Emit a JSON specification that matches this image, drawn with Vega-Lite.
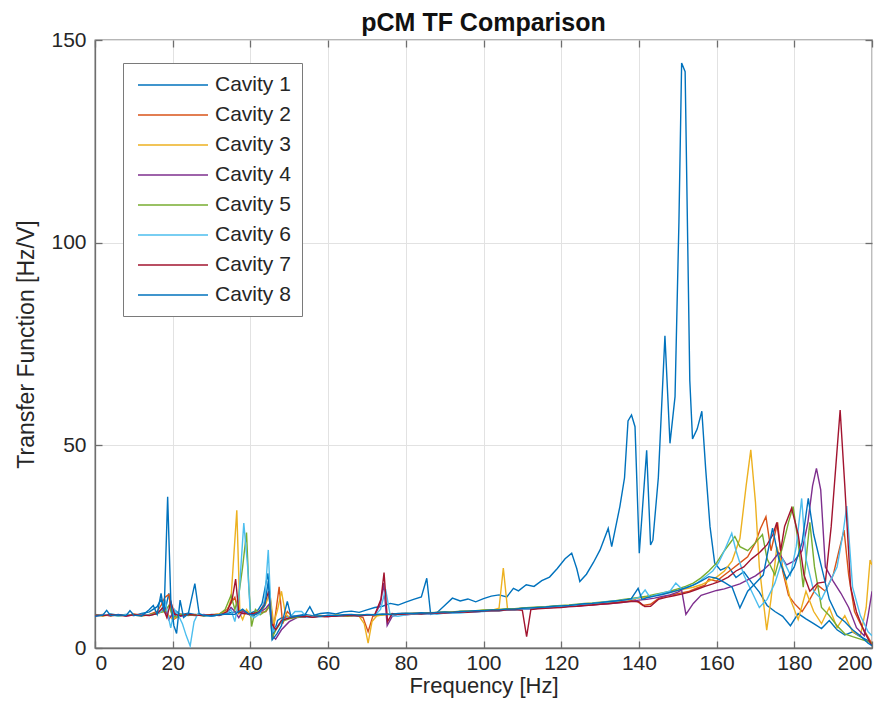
{
"$schema": "https://vega.github.io/schema/vega-lite/v6.json",
"width": 777, "height": 608,
"autosize": {"type": "none"},
"padding": {"left": 95, "top": 40, "right": 23, "bottom": 79},
"background": "white",
"title": {"text": "pCM TF Comparison", "fontSize": 25, "fontWeight": "bold", "font": "Liberation Sans", "color": "#111111", "offset": -7, "anchor": "middle"},
"data": {"values": [
{"f":0,"c":"Cavity 1","v":8.3},{"f":2,"c":"Cavity 1","v":8.0},{"f":4,"c":"Cavity 1","v":8.4},{"f":6,"c":"Cavity 1","v":8.1},{"f":8,"c":"Cavity 1","v":8.3},{"f":10,"c":"Cavity 1","v":8.0},{"f":12,"c":"Cavity 1","v":8.5},{"f":14,"c":"Cavity 1","v":8.9},{"f":16,"c":"Cavity 1","v":10.2},{"f":17,"c":"Cavity 1","v":12.0},{"f":18,"c":"Cavity 1","v":9.0},{"f":19,"c":"Cavity 1","v":13.5},{"f":20,"c":"Cavity 1","v":6.5},{"f":21,"c":"Cavity 1","v":9.0},{"f":22,"c":"Cavity 1","v":8.2},{"f":24,"c":"Cavity 1","v":8.6},{"f":26,"c":"Cavity 1","v":8.2},{"f":28,"c":"Cavity 1","v":8.0},{"f":30,"c":"Cavity 1","v":8.3},{"f":32,"c":"Cavity 1","v":8.1},{"f":34,"c":"Cavity 1","v":8.6},{"f":36,"c":"Cavity 1","v":8.9},{"f":38,"c":"Cavity 1","v":9.2},{"f":40,"c":"Cavity 1","v":8.6},{"f":42,"c":"Cavity 1","v":9.4},{"f":43,"c":"Cavity 1","v":11},{"f":44.5,"c":"Cavity 1","v":18.4},{"f":45.3,"c":"Cavity 1","v":10},{"f":46,"c":"Cavity 1","v":3.5},{"f":47,"c":"Cavity 1","v":6.8},{"f":48,"c":"Cavity 1","v":7.4},{"f":50,"c":"Cavity 1","v":7.8},{"f":52,"c":"Cavity 1","v":8.0},{"f":54,"c":"Cavity 1","v":8.3},{"f":56,"c":"Cavity 1","v":8.0},{"f":58,"c":"Cavity 1","v":8.5},{"f":60,"c":"Cavity 1","v":8.7},{"f":62,"c":"Cavity 1","v":8.4},{"f":64,"c":"Cavity 1","v":8.9},{"f":66,"c":"Cavity 1","v":9.1},{"f":68,"c":"Cavity 1","v":8.8},{"f":70,"c":"Cavity 1","v":9.4},{"f":72,"c":"Cavity 1","v":10.0},{"f":74,"c":"Cavity 1","v":10.3},{"f":76,"c":"Cavity 1","v":11.0},{"f":78,"c":"Cavity 1","v":10.6},{"f":80,"c":"Cavity 1","v":11.3},{"f":82,"c":"Cavity 1","v":12.0},{"f":84,"c":"Cavity 1","v":12.6},{"f":85.4,"c":"Cavity 1","v":17.2},{"f":86.4,"c":"Cavity 1","v":8.3},{"f":88,"c":"Cavity 1","v":8.7},{"f":90,"c":"Cavity 1","v":10.5},{"f":92,"c":"Cavity 1","v":12.3},{"f":94,"c":"Cavity 1","v":11.6},{"f":96,"c":"Cavity 1","v":12.1},{"f":98,"c":"Cavity 1","v":11.4},{"f":100,"c":"Cavity 1","v":12.2},{"f":102,"c":"Cavity 1","v":12.8},{"f":104,"c":"Cavity 1","v":13.1},{"f":106,"c":"Cavity 1","v":12.6},{"f":107.7,"c":"Cavity 1","v":14.7},{"f":109,"c":"Cavity 1","v":14.1},{"f":111,"c":"Cavity 1","v":15.6},{"f":113,"c":"Cavity 1","v":15.2},{"f":115,"c":"Cavity 1","v":16.6},{"f":117,"c":"Cavity 1","v":17.5},{"f":119,"c":"Cavity 1","v":19.6},{"f":121,"c":"Cavity 1","v":22.0},{"f":122.7,"c":"Cavity 1","v":23.4},{"f":124,"c":"Cavity 1","v":19.6},{"f":124.8,"c":"Cavity 1","v":16.4},{"f":126.5,"c":"Cavity 1","v":18.2},{"f":128.3,"c":"Cavity 1","v":21.1},{"f":130,"c":"Cavity 1","v":24.2},{"f":132.1,"c":"Cavity 1","v":29.5},{"f":133,"c":"Cavity 1","v":25.0},{"f":135.1,"c":"Cavity 1","v":34.9},{"f":136.3,"c":"Cavity 1","v":42},{"f":137.2,"c":"Cavity 1","v":56},{"f":138.1,"c":"Cavity 1","v":57.5},{"f":139,"c":"Cavity 1","v":54.6},{"f":140.1,"c":"Cavity 1","v":23.4},{"f":142,"c":"Cavity 1","v":48.8},{"f":143,"c":"Cavity 1","v":25.4},{"f":143.6,"c":"Cavity 1","v":26.6},{"f":145,"c":"Cavity 1","v":42},{"f":146.7,"c":"Cavity 1","v":77},{"f":148,"c":"Cavity 1","v":50.5},{"f":149.3,"c":"Cavity 1","v":62},{"f":150.3,"c":"Cavity 1","v":105},{"f":151,"c":"Cavity 1","v":144.3},{"f":151.9,"c":"Cavity 1","v":142.2},{"f":153.1,"c":"Cavity 1","v":66},{"f":153.8,"c":"Cavity 1","v":51.6},{"f":155,"c":"Cavity 1","v":54},{"f":156.2,"c":"Cavity 1","v":58.4},{"f":157.2,"c":"Cavity 1","v":44},{"f":158.3,"c":"Cavity 1","v":30},{"f":159.5,"c":"Cavity 1","v":21},{"f":161,"c":"Cavity 1","v":19.2},{"f":163,"c":"Cavity 1","v":20.1},{"f":165,"c":"Cavity 1","v":17.4},{"f":167,"c":"Cavity 1","v":18.8},{"f":169,"c":"Cavity 1","v":16.2},{"f":171,"c":"Cavity 1","v":13.8},{"f":173,"c":"Cavity 1","v":10.5},{"f":175,"c":"Cavity 1","v":9.0},{"f":177,"c":"Cavity 1","v":7.8},{"f":179,"c":"Cavity 1","v":5.5},{"f":181,"c":"Cavity 1","v":8.5},{"f":183,"c":"Cavity 1","v":7.2},{"f":185,"c":"Cavity 1","v":6.0},{"f":187,"c":"Cavity 1","v":4.8},{"f":189,"c":"Cavity 1","v":6.8},{"f":191,"c":"Cavity 1","v":4.5},{"f":193,"c":"Cavity 1","v":3.2},{"f":195,"c":"Cavity 1","v":4.0},{"f":197,"c":"Cavity 1","v":2.8},{"f":199,"c":"Cavity 1","v":1.8},{"f":200,"c":"Cavity 1","v":1.2},
{"f":0,"c":"Cavity 2","v":8.0},{"f":2,"c":"Cavity 2","v":8.3},{"f":4,"c":"Cavity 2","v":7.9},{"f":6,"c":"Cavity 2","v":8.2},{"f":8,"c":"Cavity 2","v":8.0},{"f":10,"c":"Cavity 2","v":8.4},{"f":12,"c":"Cavity 2","v":8.1},{"f":14,"c":"Cavity 2","v":8.3},{"f":16,"c":"Cavity 2","v":9.0},{"f":17,"c":"Cavity 2","v":10.5},{"f":18,"c":"Cavity 2","v":12.5},{"f":19,"c":"Cavity 2","v":13.2},{"f":20,"c":"Cavity 2","v":7.0},{"f":21,"c":"Cavity 2","v":7.5},{"f":22,"c":"Cavity 2","v":8.4},{"f":24,"c":"Cavity 2","v":8.0},{"f":26,"c":"Cavity 2","v":8.3},{"f":28,"c":"Cavity 2","v":8.1},{"f":30,"c":"Cavity 2","v":8.2},{"f":32,"c":"Cavity 2","v":8.4},{"f":34,"c":"Cavity 2","v":9.5},{"f":35,"c":"Cavity 2","v":11},{"f":36,"c":"Cavity 2","v":12.5},{"f":37,"c":"Cavity 2","v":8.5},{"f":38,"c":"Cavity 2","v":9.2},{"f":40,"c":"Cavity 2","v":8.0},{"f":42,"c":"Cavity 2","v":8.6},{"f":44,"c":"Cavity 2","v":9.0},{"f":45,"c":"Cavity 2","v":10.5},{"f":46,"c":"Cavity 2","v":5.0},{"f":47.4,"c":"Cavity 2","v":15.1},{"f":48.3,"c":"Cavity 2","v":6.0},{"f":49.5,"c":"Cavity 2","v":9.0},{"f":51,"c":"Cavity 2","v":7.5},{"f":53,"c":"Cavity 2","v":7.7},{"f":55,"c":"Cavity 2","v":7.6},{"f":57,"c":"Cavity 2","v":7.9},{"f":59,"c":"Cavity 2","v":7.7},{"f":61,"c":"Cavity 2","v":7.9},{"f":63,"c":"Cavity 2","v":8.0},{"f":65,"c":"Cavity 2","v":7.8},{"f":67,"c":"Cavity 2","v":8.1},{"f":69,"c":"Cavity 2","v":7.5},{"f":70.3,"c":"Cavity 2","v":4.0},{"f":71.5,"c":"Cavity 2","v":7.8},{"f":73,"c":"Cavity 2","v":8.2},{"f":75,"c":"Cavity 2","v":8.3},{"f":77,"c":"Cavity 2","v":8.2},{"f":79,"c":"Cavity 2","v":8.5},{"f":81,"c":"Cavity 2","v":8.4},{"f":83,"c":"Cavity 2","v":8.6},{"f":85,"c":"Cavity 2","v":8.5},{"f":87,"c":"Cavity 2","v":8.7},{"f":89,"c":"Cavity 2","v":8.8},{"f":91,"c":"Cavity 2","v":8.7},{"f":93,"c":"Cavity 2","v":8.9},{"f":95,"c":"Cavity 2","v":9.0},{"f":97,"c":"Cavity 2","v":9.1},{"f":99,"c":"Cavity 2","v":9.0},{"f":101,"c":"Cavity 2","v":9.3},{"f":103,"c":"Cavity 2","v":9.4},{"f":105,"c":"Cavity 2","v":9.5},{"f":107,"c":"Cavity 2","v":9.5},{"f":109,"c":"Cavity 2","v":9.6},{"f":111,"c":"Cavity 2","v":9.7},{"f":113,"c":"Cavity 2","v":9.8},{"f":115,"c":"Cavity 2","v":9.9},{"f":117,"c":"Cavity 2","v":10.0},{"f":119,"c":"Cavity 2","v":10.1},{"f":121,"c":"Cavity 2","v":10.2},{"f":123,"c":"Cavity 2","v":10.4},{"f":125,"c":"Cavity 2","v":10.5},{"f":127,"c":"Cavity 2","v":10.7},{"f":129,"c":"Cavity 2","v":10.8},{"f":131,"c":"Cavity 2","v":11.0},{"f":133,"c":"Cavity 2","v":11.2},{"f":135,"c":"Cavity 2","v":11.4},{"f":137,"c":"Cavity 2","v":11.6},{"f":139,"c":"Cavity 2","v":11.9},{"f":141,"c":"Cavity 2","v":10.5},{"f":143,"c":"Cavity 2","v":10.8},{"f":145,"c":"Cavity 2","v":12.2},{"f":147,"c":"Cavity 2","v":12.8},{"f":149,"c":"Cavity 2","v":13.2},{"f":151,"c":"Cavity 2","v":13.6},{"f":153,"c":"Cavity 2","v":14.0},{"f":155,"c":"Cavity 2","v":14.8},{"f":157,"c":"Cavity 2","v":15.5},{"f":158,"c":"Cavity 2","v":17},{"f":160,"c":"Cavity 2","v":16.5},{"f":162,"c":"Cavity 2","v":18},{"f":164,"c":"Cavity 2","v":19.5},{"f":166,"c":"Cavity 2","v":21},{"f":168,"c":"Cavity 2","v":22.5},{"f":170,"c":"Cavity 2","v":26},{"f":171.3,"c":"Cavity 2","v":29.5},{"f":172.7,"c":"Cavity 2","v":32.4},{"f":174,"c":"Cavity 2","v":24},{"f":175.7,"c":"Cavity 2","v":31},{"f":177,"c":"Cavity 2","v":19},{"f":178.5,"c":"Cavity 2","v":13},{"f":180,"c":"Cavity 2","v":11},{"f":182,"c":"Cavity 2","v":9},{"f":184,"c":"Cavity 2","v":12},{"f":186,"c":"Cavity 2","v":15.5},{"f":188,"c":"Cavity 2","v":14},{"f":190,"c":"Cavity 2","v":18},{"f":191.5,"c":"Cavity 2","v":24},{"f":192.8,"c":"Cavity 2","v":29.1},{"f":194,"c":"Cavity 2","v":18},{"f":195.5,"c":"Cavity 2","v":9},{"f":197,"c":"Cavity 2","v":6},{"f":198.5,"c":"Cavity 2","v":3.5},{"f":200,"c":"Cavity 2","v":1},
{"f":0,"c":"Cavity 3","v":8.1},{"f":2,"c":"Cavity 3","v":7.9},{"f":4,"c":"Cavity 3","v":8.2},{"f":6,"c":"Cavity 3","v":8.0},{"f":8,"c":"Cavity 3","v":8.2},{"f":10,"c":"Cavity 3","v":8.1},{"f":12,"c":"Cavity 3","v":7.9},{"f":14,"c":"Cavity 3","v":8.2},{"f":16,"c":"Cavity 3","v":8.4},{"f":18,"c":"Cavity 3","v":9.5},{"f":19,"c":"Cavity 3","v":8.0},{"f":20,"c":"Cavity 3","v":7.2},{"f":22,"c":"Cavity 3","v":8.1},{"f":24,"c":"Cavity 3","v":8.3},{"f":26,"c":"Cavity 3","v":8.0},{"f":28,"c":"Cavity 3","v":8.2},{"f":30,"c":"Cavity 3","v":8.1},{"f":32,"c":"Cavity 3","v":8.4},{"f":34,"c":"Cavity 3","v":9.0},{"f":35,"c":"Cavity 3","v":12},{"f":36.5,"c":"Cavity 3","v":34},{"f":37.3,"c":"Cavity 3","v":8.5},{"f":38,"c":"Cavity 3","v":7},{"f":39,"c":"Cavity 3","v":9.5},{"f":40,"c":"Cavity 3","v":8.3},{"f":42,"c":"Cavity 3","v":8.7},{"f":43,"c":"Cavity 3","v":9.2},{"f":44,"c":"Cavity 3","v":11},{"f":45,"c":"Cavity 3","v":13.5},{"f":46,"c":"Cavity 3","v":6.0},{"f":47,"c":"Cavity 3","v":9.5},{"f":48,"c":"Cavity 3","v":14},{"f":49,"c":"Cavity 3","v":8.5},{"f":50,"c":"Cavity 3","v":7.5},{"f":52,"c":"Cavity 3","v":7.6},{"f":54,"c":"Cavity 3","v":7.8},{"f":56,"c":"Cavity 3","v":7.7},{"f":58,"c":"Cavity 3","v":8.0},{"f":60,"c":"Cavity 3","v":7.8},{"f":62,"c":"Cavity 3","v":8.1},{"f":64,"c":"Cavity 3","v":7.9},{"f":66,"c":"Cavity 3","v":8.2},{"f":68,"c":"Cavity 3","v":7.8},{"f":69.3,"c":"Cavity 3","v":6},{"f":70.3,"c":"Cavity 3","v":1.2},{"f":71.3,"c":"Cavity 3","v":6.5},{"f":72.5,"c":"Cavity 3","v":7.9},{"f":74,"c":"Cavity 3","v":8.2},{"f":76,"c":"Cavity 3","v":8.3},{"f":78,"c":"Cavity 3","v":8.4},{"f":80,"c":"Cavity 3","v":8.5},{"f":82,"c":"Cavity 3","v":8.4},{"f":84,"c":"Cavity 3","v":8.6},{"f":86,"c":"Cavity 3","v":8.7},{"f":88,"c":"Cavity 3","v":8.7},{"f":90,"c":"Cavity 3","v":8.9},{"f":92,"c":"Cavity 3","v":8.8},{"f":94,"c":"Cavity 3","v":9.0},{"f":96,"c":"Cavity 3","v":9.1},{"f":98,"c":"Cavity 3","v":9.1},{"f":100,"c":"Cavity 3","v":9.3},{"f":102,"c":"Cavity 3","v":9.3},{"f":104,"c":"Cavity 3","v":9.8},{"f":105.1,"c":"Cavity 3","v":19.7},{"f":106.2,"c":"Cavity 3","v":9.5},{"f":108,"c":"Cavity 3","v":9.6},{"f":110,"c":"Cavity 3","v":9.8},{"f":112,"c":"Cavity 3","v":9.9},{"f":114,"c":"Cavity 3","v":10.0},{"f":116,"c":"Cavity 3","v":10.1},{"f":118,"c":"Cavity 3","v":10.2},{"f":120,"c":"Cavity 3","v":10.3},{"f":122,"c":"Cavity 3","v":10.4},{"f":124,"c":"Cavity 3","v":10.6},{"f":126,"c":"Cavity 3","v":10.8},{"f":128,"c":"Cavity 3","v":10.9},{"f":130,"c":"Cavity 3","v":11.1},{"f":132,"c":"Cavity 3","v":11.3},{"f":134,"c":"Cavity 3","v":11.5},{"f":136,"c":"Cavity 3","v":11.8},{"f":138,"c":"Cavity 3","v":12.0},{"f":140,"c":"Cavity 3","v":12.3},{"f":142,"c":"Cavity 3","v":12.6},{"f":144,"c":"Cavity 3","v":12.9},{"f":146,"c":"Cavity 3","v":13.3},{"f":148,"c":"Cavity 3","v":13.8},{"f":150,"c":"Cavity 3","v":14.2},{"f":152,"c":"Cavity 3","v":14.6},{"f":154,"c":"Cavity 3","v":15.0},{"f":156,"c":"Cavity 3","v":15.6},{"f":158,"c":"Cavity 3","v":16.5},{"f":160,"c":"Cavity 3","v":17.5},{"f":162,"c":"Cavity 3","v":19},{"f":164,"c":"Cavity 3","v":21.5},{"f":166,"c":"Cavity 3","v":27},{"f":167.6,"c":"Cavity 3","v":40},{"f":168.8,"c":"Cavity 3","v":48.9},{"f":170,"c":"Cavity 3","v":36},{"f":171,"c":"Cavity 3","v":20},{"f":172.9,"c":"Cavity 3","v":4.4},{"f":174,"c":"Cavity 3","v":12},{"f":175.5,"c":"Cavity 3","v":25},{"f":177,"c":"Cavity 3","v":20},{"f":179,"c":"Cavity 3","v":12},{"f":181,"c":"Cavity 3","v":7},{"f":183,"c":"Cavity 3","v":14},{"f":185,"c":"Cavity 3","v":9},{"f":187,"c":"Cavity 3","v":6},{"f":189,"c":"Cavity 3","v":10},{"f":191,"c":"Cavity 3","v":5},{"f":193,"c":"Cavity 3","v":8},{"f":195,"c":"Cavity 3","v":4},{"f":197,"c":"Cavity 3","v":3},{"f":198.5,"c":"Cavity 3","v":10},{"f":199.5,"c":"Cavity 3","v":21.7},{"f":200,"c":"Cavity 3","v":20.5},
{"f":0,"c":"Cavity 4","v":7.9},{"f":2,"c":"Cavity 4","v":8.1},{"f":4,"c":"Cavity 4","v":8.0},{"f":6,"c":"Cavity 4","v":8.3},{"f":8,"c":"Cavity 4","v":7.9},{"f":10,"c":"Cavity 4","v":8.2},{"f":12,"c":"Cavity 4","v":8.0},{"f":14,"c":"Cavity 4","v":8.1},{"f":16,"c":"Cavity 4","v":8.5},{"f":18,"c":"Cavity 4","v":9.8},{"f":19,"c":"Cavity 4","v":7.0},{"f":20,"c":"Cavity 4","v":8.6},{"f":22,"c":"Cavity 4","v":7.8},{"f":24,"c":"Cavity 4","v":8.1},{"f":26,"c":"Cavity 4","v":8.0},{"f":28,"c":"Cavity 4","v":8.3},{"f":30,"c":"Cavity 4","v":7.9},{"f":32,"c":"Cavity 4","v":8.2},{"f":34,"c":"Cavity 4","v":8.5},{"f":35,"c":"Cavity 4","v":10},{"f":36,"c":"Cavity 4","v":9},{"f":37,"c":"Cavity 4","v":7.5},{"f":38,"c":"Cavity 4","v":9},{"f":40,"c":"Cavity 4","v":8.2},{"f":42,"c":"Cavity 4","v":8.5},{"f":44,"c":"Cavity 4","v":9.8},{"f":45,"c":"Cavity 4","v":11},{"f":45.6,"c":"Cavity 4","v":3.0},{"f":46.5,"c":"Cavity 4","v":2.2},{"f":48,"c":"Cavity 4","v":4.5},{"f":50,"c":"Cavity 4","v":6.5},{"f":52,"c":"Cavity 4","v":7.5},{"f":54,"c":"Cavity 4","v":7.7},{"f":56,"c":"Cavity 4","v":7.6},{"f":58,"c":"Cavity 4","v":7.9},{"f":60,"c":"Cavity 4","v":7.7},{"f":62,"c":"Cavity 4","v":8.0},{"f":64,"c":"Cavity 4","v":7.9},{"f":66,"c":"Cavity 4","v":8.1},{"f":68,"c":"Cavity 4","v":8.0},{"f":70,"c":"Cavity 4","v":8.2},{"f":72,"c":"Cavity 4","v":8.1},{"f":73.5,"c":"Cavity 4","v":11},{"f":74.3,"c":"Cavity 4","v":16},{"f":75.2,"c":"Cavity 4","v":5.5},{"f":76.5,"c":"Cavity 4","v":7.8},{"f":78,"c":"Cavity 4","v":8.3},{"f":80,"c":"Cavity 4","v":8.2},{"f":82,"c":"Cavity 4","v":8.4},{"f":84,"c":"Cavity 4","v":8.5},{"f":86,"c":"Cavity 4","v":8.4},{"f":88,"c":"Cavity 4","v":8.6},{"f":90,"c":"Cavity 4","v":8.7},{"f":92,"c":"Cavity 4","v":8.6},{"f":94,"c":"Cavity 4","v":8.8},{"f":96,"c":"Cavity 4","v":8.9},{"f":98,"c":"Cavity 4","v":8.9},{"f":100,"c":"Cavity 4","v":9.1},{"f":102,"c":"Cavity 4","v":9.2},{"f":104,"c":"Cavity 4","v":9.3},{"f":106,"c":"Cavity 4","v":9.3},{"f":108,"c":"Cavity 4","v":9.5},{"f":110,"c":"Cavity 4","v":9.6},{"f":112,"c":"Cavity 4","v":9.6},{"f":114,"c":"Cavity 4","v":9.8},{"f":116,"c":"Cavity 4","v":9.9},{"f":118,"c":"Cavity 4","v":10.0},{"f":120,"c":"Cavity 4","v":10.1},{"f":122,"c":"Cavity 4","v":10.2},{"f":124,"c":"Cavity 4","v":10.3},{"f":126,"c":"Cavity 4","v":10.5},{"f":128,"c":"Cavity 4","v":10.6},{"f":130,"c":"Cavity 4","v":10.8},{"f":132,"c":"Cavity 4","v":10.9},{"f":134,"c":"Cavity 4","v":11.1},{"f":136,"c":"Cavity 4","v":11.3},{"f":138,"c":"Cavity 4","v":11.5},{"f":140,"c":"Cavity 4","v":11.8},{"f":142,"c":"Cavity 4","v":12.0},{"f":144,"c":"Cavity 4","v":12.3},{"f":146,"c":"Cavity 4","v":12.7},{"f":148,"c":"Cavity 4","v":13.1},{"f":150,"c":"Cavity 4","v":13.8},{"f":151,"c":"Cavity 4","v":14.3},{"f":152.1,"c":"Cavity 4","v":8.3},{"f":154,"c":"Cavity 4","v":11},{"f":156,"c":"Cavity 4","v":13},{"f":158,"c":"Cavity 4","v":13.6},{"f":160,"c":"Cavity 4","v":14.2},{"f":162,"c":"Cavity 4","v":14.6},{"f":164,"c":"Cavity 4","v":15.2},{"f":166,"c":"Cavity 4","v":15.8},{"f":168,"c":"Cavity 4","v":16.8},{"f":170,"c":"Cavity 4","v":17.8},{"f":172,"c":"Cavity 4","v":19.2},{"f":174,"c":"Cavity 4","v":21},{"f":176,"c":"Cavity 4","v":23.5},{"f":178,"c":"Cavity 4","v":20.5},{"f":180,"c":"Cavity 4","v":21.5},{"f":182,"c":"Cavity 4","v":24},{"f":183.5,"c":"Cavity 4","v":31},{"f":184.7,"c":"Cavity 4","v":40},{"f":185.7,"c":"Cavity 4","v":44.3},{"f":186.8,"c":"Cavity 4","v":39},{"f":188,"c":"Cavity 4","v":20},{"f":190,"c":"Cavity 4","v":16.5},{"f":192,"c":"Cavity 4","v":13.5},{"f":194,"c":"Cavity 4","v":10},{"f":196,"c":"Cavity 4","v":5},{"f":198,"c":"Cavity 4","v":3},{"f":199,"c":"Cavity 4","v":8},{"f":200,"c":"Cavity 4","v":14},
{"f":0,"c":"Cavity 5","v":8.2},{"f":2,"c":"Cavity 5","v":8.0},{"f":4,"c":"Cavity 5","v":8.3},{"f":6,"c":"Cavity 5","v":7.9},{"f":8,"c":"Cavity 5","v":8.1},{"f":10,"c":"Cavity 5","v":8.3},{"f":12,"c":"Cavity 5","v":8.0},{"f":14,"c":"Cavity 5","v":8.2},{"f":16,"c":"Cavity 5","v":8.6},{"f":18,"c":"Cavity 5","v":9.0},{"f":19,"c":"Cavity 5","v":10.5},{"f":20,"c":"Cavity 5","v":8.0},{"f":21,"c":"Cavity 5","v":7.6},{"f":22,"c":"Cavity 5","v":8.3},{"f":24,"c":"Cavity 5","v":8.1},{"f":26,"c":"Cavity 5","v":8.2},{"f":28,"c":"Cavity 5","v":7.9},{"f":30,"c":"Cavity 5","v":8.2},{"f":32,"c":"Cavity 5","v":8.3},{"f":33.5,"c":"Cavity 5","v":9.5},{"f":35,"c":"Cavity 5","v":13},{"f":36,"c":"Cavity 5","v":9.5},{"f":37,"c":"Cavity 5","v":13},{"f":38,"c":"Cavity 5","v":20},{"f":39,"c":"Cavity 5","v":28.5},{"f":39.6,"c":"Cavity 5","v":15},{"f":40.3,"c":"Cavity 5","v":5.3},{"f":41.3,"c":"Cavity 5","v":9.5},{"f":42.5,"c":"Cavity 5","v":8.2},{"f":44,"c":"Cavity 5","v":9.2},{"f":45,"c":"Cavity 5","v":10.5},{"f":45.6,"c":"Cavity 5","v":2.5},{"f":46.6,"c":"Cavity 5","v":4.5},{"f":48,"c":"Cavity 5","v":6.5},{"f":50,"c":"Cavity 5","v":7.2},{"f":52,"c":"Cavity 5","v":7.6},{"f":54,"c":"Cavity 5","v":7.8},{"f":56,"c":"Cavity 5","v":7.7},{"f":58,"c":"Cavity 5","v":7.9},{"f":60,"c":"Cavity 5","v":7.8},{"f":62,"c":"Cavity 5","v":8.1},{"f":64,"c":"Cavity 5","v":8.0},{"f":66,"c":"Cavity 5","v":7.9},{"f":68,"c":"Cavity 5","v":8.2},{"f":70,"c":"Cavity 5","v":8.1},{"f":72,"c":"Cavity 5","v":8.3},{"f":74,"c":"Cavity 5","v":8.2},{"f":76,"c":"Cavity 5","v":8.4},{"f":78,"c":"Cavity 5","v":8.3},{"f":80,"c":"Cavity 5","v":8.5},{"f":82,"c":"Cavity 5","v":8.6},{"f":84,"c":"Cavity 5","v":8.6},{"f":86,"c":"Cavity 5","v":8.7},{"f":88,"c":"Cavity 5","v":8.8},{"f":90,"c":"Cavity 5","v":8.9},{"f":92,"c":"Cavity 5","v":8.9},{"f":94,"c":"Cavity 5","v":9.1},{"f":96,"c":"Cavity 5","v":9.1},{"f":98,"c":"Cavity 5","v":9.2},{"f":100,"c":"Cavity 5","v":9.4},{"f":102,"c":"Cavity 5","v":9.4},{"f":104,"c":"Cavity 5","v":9.5},{"f":106,"c":"Cavity 5","v":9.7},{"f":108,"c":"Cavity 5","v":9.7},{"f":110,"c":"Cavity 5","v":9.9},{"f":112,"c":"Cavity 5","v":10.0},{"f":114,"c":"Cavity 5","v":10.1},{"f":116,"c":"Cavity 5","v":10.2},{"f":118,"c":"Cavity 5","v":10.4},{"f":120,"c":"Cavity 5","v":10.5},{"f":122,"c":"Cavity 5","v":10.6},{"f":124,"c":"Cavity 5","v":10.8},{"f":126,"c":"Cavity 5","v":11.0},{"f":128,"c":"Cavity 5","v":11.1},{"f":130,"c":"Cavity 5","v":11.3},{"f":132,"c":"Cavity 5","v":11.5},{"f":134,"c":"Cavity 5","v":11.7},{"f":136,"c":"Cavity 5","v":12.0},{"f":138,"c":"Cavity 5","v":12.2},{"f":140,"c":"Cavity 5","v":12.5},{"f":142,"c":"Cavity 5","v":12.8},{"f":144,"c":"Cavity 5","v":13.2},{"f":146,"c":"Cavity 5","v":13.6},{"f":148,"c":"Cavity 5","v":14.0},{"f":150,"c":"Cavity 5","v":14.6},{"f":152,"c":"Cavity 5","v":15.2},{"f":154,"c":"Cavity 5","v":16},{"f":156,"c":"Cavity 5","v":17.3},{"f":158,"c":"Cavity 5","v":19},{"f":160,"c":"Cavity 5","v":21},{"f":162,"c":"Cavity 5","v":24},{"f":164.7,"c":"Cavity 5","v":27.5},{"f":166,"c":"Cavity 5","v":25},{"f":168,"c":"Cavity 5","v":24},{"f":170,"c":"Cavity 5","v":26},{"f":171.8,"c":"Cavity 5","v":28},{"f":173,"c":"Cavity 5","v":22},{"f":175,"c":"Cavity 5","v":18},{"f":177,"c":"Cavity 5","v":25},{"f":178.5,"c":"Cavity 5","v":31},{"f":179.7,"c":"Cavity 5","v":34.9},{"f":181,"c":"Cavity 5","v":26},{"f":182.3,"c":"Cavity 5","v":15},{"f":184,"c":"Cavity 5","v":31},{"f":185.2,"c":"Cavity 5","v":20},{"f":187,"c":"Cavity 5","v":10},{"f":189,"c":"Cavity 5","v":8},{"f":191,"c":"Cavity 5","v":5.5},{"f":193,"c":"Cavity 5","v":3.5},{"f":195,"c":"Cavity 5","v":2.8},{"f":197,"c":"Cavity 5","v":2.2},{"f":199,"c":"Cavity 5","v":1.6},{"f":200,"c":"Cavity 5","v":1.2},
{"f":0,"c":"Cavity 6","v":8.0},{"f":2,"c":"Cavity 6","v":8.2},{"f":4,"c":"Cavity 6","v":8.1},{"f":6,"c":"Cavity 6","v":7.9},{"f":8,"c":"Cavity 6","v":8.2},{"f":10,"c":"Cavity 6","v":8.0},{"f":12,"c":"Cavity 6","v":8.3},{"f":14,"c":"Cavity 6","v":8.1},{"f":16,"c":"Cavity 6","v":8.4},{"f":17,"c":"Cavity 6","v":9.0},{"f":18,"c":"Cavity 6","v":12},{"f":18.8,"c":"Cavity 6","v":8},{"f":19.5,"c":"Cavity 6","v":5.0},{"f":20.5,"c":"Cavity 6","v":9.5},{"f":21.5,"c":"Cavity 6","v":8.0},{"f":22.5,"c":"Cavity 6","v":6.0},{"f":23.5,"c":"Cavity 6","v":3.0},{"f":24.5,"c":"Cavity 6","v":0.5},{"f":25.5,"c":"Cavity 6","v":6.5},{"f":26.5,"c":"Cavity 6","v":8.5},{"f":28,"c":"Cavity 6","v":8.1},{"f":30,"c":"Cavity 6","v":7.8},{"f":32,"c":"Cavity 6","v":8.2},{"f":34,"c":"Cavity 6","v":8.5},{"f":35,"c":"Cavity 6","v":9.5},{"f":36,"c":"Cavity 6","v":6.5},{"f":37,"c":"Cavity 6","v":12},{"f":38.3,"c":"Cavity 6","v":30.8},{"f":39.3,"c":"Cavity 6","v":20},{"f":40,"c":"Cavity 6","v":8},{"f":41,"c":"Cavity 6","v":7.5},{"f":42.5,"c":"Cavity 6","v":8.5},{"f":43.7,"c":"Cavity 6","v":12},{"f":44.6,"c":"Cavity 6","v":24.2},{"f":45.3,"c":"Cavity 6","v":9},{"f":45.8,"c":"Cavity 6","v":4.0},{"f":47,"c":"Cavity 6","v":5.5},{"f":48.5,"c":"Cavity 6","v":7.0},{"f":50,"c":"Cavity 6","v":7.4},{"f":51.5,"c":"Cavity 6","v":9.0},{"f":53.2,"c":"Cavity 6","v":9.0},{"f":54.5,"c":"Cavity 6","v":7.6},{"f":56,"c":"Cavity 6","v":7.8},{"f":58,"c":"Cavity 6","v":7.7},{"f":60,"c":"Cavity 6","v":8.0},{"f":62,"c":"Cavity 6","v":7.9},{"f":64,"c":"Cavity 6","v":8.1},{"f":66,"c":"Cavity 6","v":8.0},{"f":68,"c":"Cavity 6","v":7.9},{"f":70,"c":"Cavity 6","v":8.2},{"f":72,"c":"Cavity 6","v":8.1},{"f":73.5,"c":"Cavity 6","v":9.5},{"f":74.8,"c":"Cavity 6","v":14.5},{"f":76,"c":"Cavity 6","v":8.0},{"f":78,"c":"Cavity 6","v":7.8},{"f":80,"c":"Cavity 6","v":8.2},{"f":82,"c":"Cavity 6","v":8.4},{"f":84,"c":"Cavity 6","v":8.3},{"f":86,"c":"Cavity 6","v":8.5},{"f":88,"c":"Cavity 6","v":8.3},{"f":90,"c":"Cavity 6","v":8.6},{"f":92,"c":"Cavity 6","v":8.7},{"f":94,"c":"Cavity 6","v":8.6},{"f":96,"c":"Cavity 6","v":8.8},{"f":98,"c":"Cavity 6","v":8.9},{"f":100,"c":"Cavity 6","v":9.0},{"f":102,"c":"Cavity 6","v":9.2},{"f":104,"c":"Cavity 6","v":9.1},{"f":106,"c":"Cavity 6","v":9.4},{"f":108,"c":"Cavity 6","v":9.3},{"f":110,"c":"Cavity 6","v":9.6},{"f":112,"c":"Cavity 6","v":9.7},{"f":114,"c":"Cavity 6","v":9.9},{"f":116,"c":"Cavity 6","v":10.0},{"f":118,"c":"Cavity 6","v":10.1},{"f":120,"c":"Cavity 6","v":10.3},{"f":122,"c":"Cavity 6","v":10.4},{"f":124,"c":"Cavity 6","v":10.6},{"f":126,"c":"Cavity 6","v":10.8},{"f":128,"c":"Cavity 6","v":11.0},{"f":130,"c":"Cavity 6","v":11.2},{"f":132,"c":"Cavity 6","v":11.4},{"f":134,"c":"Cavity 6","v":11.6},{"f":136,"c":"Cavity 6","v":11.8},{"f":138,"c":"Cavity 6","v":12.0},{"f":140,"c":"Cavity 6","v":12.4},{"f":141.6,"c":"Cavity 6","v":14.3},{"f":142.8,"c":"Cavity 6","v":12.6},{"f":144,"c":"Cavity 6","v":13.0},{"f":146,"c":"Cavity 6","v":13.5},{"f":148,"c":"Cavity 6","v":14.0},{"f":149.5,"c":"Cavity 6","v":16},{"f":151,"c":"Cavity 6","v":14.6},{"f":153,"c":"Cavity 6","v":15.2},{"f":155,"c":"Cavity 6","v":16},{"f":157,"c":"Cavity 6","v":17.5},{"f":159,"c":"Cavity 6","v":19},{"f":160.5,"c":"Cavity 6","v":21},{"f":162,"c":"Cavity 6","v":24},{"f":163.9,"c":"Cavity 6","v":28.3},{"f":165,"c":"Cavity 6","v":24},{"f":167,"c":"Cavity 6","v":18},{"f":169,"c":"Cavity 6","v":14},{"f":171,"c":"Cavity 6","v":10},{"f":173,"c":"Cavity 6","v":12},{"f":175,"c":"Cavity 6","v":16},{"f":177,"c":"Cavity 6","v":22},{"f":179,"c":"Cavity 6","v":18},{"f":180.5,"c":"Cavity 6","v":25},{"f":181.9,"c":"Cavity 6","v":36.9},{"f":183,"c":"Cavity 6","v":22},{"f":185,"c":"Cavity 6","v":14},{"f":187,"c":"Cavity 6","v":12},{"f":189,"c":"Cavity 6","v":16},{"f":191,"c":"Cavity 6","v":20},{"f":192.5,"c":"Cavity 6","v":28},{"f":193.5,"c":"Cavity 6","v":35},{"f":195,"c":"Cavity 6","v":15},{"f":197,"c":"Cavity 6","v":8},{"f":199,"c":"Cavity 6","v":4},{"f":200,"c":"Cavity 6","v":3},
{"f":0,"c":"Cavity 7","v":8.1},{"f":2,"c":"Cavity 7","v":8.0},{"f":4,"c":"Cavity 7","v":8.2},{"f":6,"c":"Cavity 7","v":8.1},{"f":8,"c":"Cavity 7","v":7.9},{"f":10,"c":"Cavity 7","v":8.2},{"f":12,"c":"Cavity 7","v":8.1},{"f":14,"c":"Cavity 7","v":8.0},{"f":16,"c":"Cavity 7","v":8.5},{"f":17.5,"c":"Cavity 7","v":10},{"f":18.5,"c":"Cavity 7","v":7.5},{"f":19.5,"c":"Cavity 7","v":11.5},{"f":20.5,"c":"Cavity 7","v":8.3},{"f":22,"c":"Cavity 7","v":8.0},{"f":24,"c":"Cavity 7","v":8.3},{"f":26,"c":"Cavity 7","v":8.1},{"f":28,"c":"Cavity 7","v":8.0},{"f":30,"c":"Cavity 7","v":8.2},{"f":32,"c":"Cavity 7","v":8.0},{"f":34,"c":"Cavity 7","v":9.0},{"f":35.3,"c":"Cavity 7","v":12},{"f":36.2,"c":"Cavity 7","v":17},{"f":37,"c":"Cavity 7","v":9},{"f":38,"c":"Cavity 7","v":8.5},{"f":40,"c":"Cavity 7","v":8.4},{"f":42,"c":"Cavity 7","v":8.8},{"f":43.5,"c":"Cavity 7","v":10.5},{"f":44.7,"c":"Cavity 7","v":14},{"f":45.5,"c":"Cavity 7","v":6},{"f":46.5,"c":"Cavity 7","v":4.5},{"f":48,"c":"Cavity 7","v":6.8},{"f":50,"c":"Cavity 7","v":7.4},{"f":52,"c":"Cavity 7","v":7.8},{"f":54,"c":"Cavity 7","v":7.9},{"f":56,"c":"Cavity 7","v":7.6},{"f":58,"c":"Cavity 7","v":7.8},{"f":60,"c":"Cavity 7","v":7.9},{"f":62,"c":"Cavity 7","v":7.8},{"f":64,"c":"Cavity 7","v":8.1},{"f":66,"c":"Cavity 7","v":8.0},{"f":68,"c":"Cavity 7","v":7.9},{"f":70,"c":"Cavity 7","v":8.1},{"f":72,"c":"Cavity 7","v":8.2},{"f":73.6,"c":"Cavity 7","v":12},{"f":74.4,"c":"Cavity 7","v":18.6},{"f":75.3,"c":"Cavity 7","v":6.5},{"f":76.5,"c":"Cavity 7","v":8.5},{"f":78,"c":"Cavity 7","v":8.3},{"f":80,"c":"Cavity 7","v":8.4},{"f":82,"c":"Cavity 7","v":8.5},{"f":84,"c":"Cavity 7","v":8.4},{"f":86,"c":"Cavity 7","v":8.6},{"f":88,"c":"Cavity 7","v":8.7},{"f":90,"c":"Cavity 7","v":8.6},{"f":92,"c":"Cavity 7","v":8.8},{"f":94,"c":"Cavity 7","v":8.9},{"f":96,"c":"Cavity 7","v":8.8},{"f":98,"c":"Cavity 7","v":9.0},{"f":100,"c":"Cavity 7","v":9.1},{"f":102,"c":"Cavity 7","v":9.2},{"f":104,"c":"Cavity 7","v":9.2},{"f":106,"c":"Cavity 7","v":9.4},{"f":108,"c":"Cavity 7","v":9.5},{"f":110,"c":"Cavity 7","v":9.3},{"f":111.1,"c":"Cavity 7","v":2.8},{"f":112.2,"c":"Cavity 7","v":9.5},{"f":114,"c":"Cavity 7","v":9.7},{"f":116,"c":"Cavity 7","v":9.8},{"f":118,"c":"Cavity 7","v":9.9},{"f":120,"c":"Cavity 7","v":10.0},{"f":122,"c":"Cavity 7","v":10.2},{"f":124,"c":"Cavity 7","v":10.3},{"f":126,"c":"Cavity 7","v":10.5},{"f":128,"c":"Cavity 7","v":10.6},{"f":130,"c":"Cavity 7","v":10.8},{"f":132,"c":"Cavity 7","v":10.9},{"f":134,"c":"Cavity 7","v":11.1},{"f":136,"c":"Cavity 7","v":11.3},{"f":138,"c":"Cavity 7","v":11.5},{"f":140,"c":"Cavity 7","v":11.4},{"f":141.5,"c":"Cavity 7","v":10.2},{"f":143,"c":"Cavity 7","v":10.3},{"f":145,"c":"Cavity 7","v":12.0},{"f":147,"c":"Cavity 7","v":12.5},{"f":149,"c":"Cavity 7","v":12.9},{"f":151,"c":"Cavity 7","v":13.3},{"f":153,"c":"Cavity 7","v":13.8},{"f":155,"c":"Cavity 7","v":14.5},{"f":157,"c":"Cavity 7","v":15.2},{"f":159,"c":"Cavity 7","v":15.8},{"f":161,"c":"Cavity 7","v":16.5},{"f":163,"c":"Cavity 7","v":17.5},{"f":165,"c":"Cavity 7","v":19},{"f":167,"c":"Cavity 7","v":20},{"f":169,"c":"Cavity 7","v":22},{"f":171,"c":"Cavity 7","v":23.5},{"f":173,"c":"Cavity 7","v":25.5},{"f":174.5,"c":"Cavity 7","v":28},{"f":175.5,"c":"Cavity 7","v":31},{"f":176.5,"c":"Cavity 7","v":24},{"f":177.5,"c":"Cavity 7","v":30},{"f":179.3,"c":"Cavity 7","v":34.5},{"f":181,"c":"Cavity 7","v":28},{"f":182.5,"c":"Cavity 7","v":18},{"f":184,"c":"Cavity 7","v":14},{"f":186,"c":"Cavity 7","v":16},{"f":188,"c":"Cavity 7","v":16.3},{"f":189.5,"c":"Cavity 7","v":30},{"f":190.7,"c":"Cavity 7","v":45},{"f":191.8,"c":"Cavity 7","v":58.7},{"f":193,"c":"Cavity 7","v":40},{"f":194.5,"c":"Cavity 7","v":15},{"f":196,"c":"Cavity 7","v":8.9},{"f":198,"c":"Cavity 7","v":4},{"f":200,"c":"Cavity 7","v":0.5},
{"f":0,"c":"Cavity 8","v":7.8},{"f":2,"c":"Cavity 8","v":8.1},{"f":3,"c":"Cavity 8","v":9.3},{"f":4,"c":"Cavity 8","v":8.0},{"f":6,"c":"Cavity 8","v":8.2},{"f":8,"c":"Cavity 8","v":8.0},{"f":9,"c":"Cavity 8","v":9.2},{"f":10,"c":"Cavity 8","v":8.1},{"f":12,"c":"Cavity 8","v":7.9},{"f":14,"c":"Cavity 8","v":9.5},{"f":15,"c":"Cavity 8","v":10.5},{"f":16,"c":"Cavity 8","v":8.3},{"f":17,"c":"Cavity 8","v":13.5},{"f":17.8,"c":"Cavity 8","v":9},{"f":18.7,"c":"Cavity 8","v":37.3},{"f":19.5,"c":"Cavity 8","v":12},{"f":20.3,"c":"Cavity 8","v":5.5},{"f":21,"c":"Cavity 8","v":3.6},{"f":21.9,"c":"Cavity 8","v":11.8},{"f":22.8,"c":"Cavity 8","v":7.5},{"f":24,"c":"Cavity 8","v":8.4},{"f":25.7,"c":"Cavity 8","v":15.9},{"f":26.8,"c":"Cavity 8","v":8.5},{"f":28,"c":"Cavity 8","v":8.0},{"f":30,"c":"Cavity 8","v":7.9},{"f":32,"c":"Cavity 8","v":8.2},{"f":34,"c":"Cavity 8","v":8.4},{"f":36,"c":"Cavity 8","v":8.3},{"f":38,"c":"Cavity 8","v":9.6},{"f":39.5,"c":"Cavity 8","v":8.4},{"f":41,"c":"Cavity 8","v":8.1},{"f":42.5,"c":"Cavity 8","v":9.0},{"f":43.7,"c":"Cavity 8","v":10.5},{"f":44.6,"c":"Cavity 8","v":16.5},{"f":45.3,"c":"Cavity 8","v":6.5},{"f":45.6,"c":"Cavity 8","v":2.0},{"f":46.8,"c":"Cavity 8","v":3.5},{"f":48,"c":"Cavity 8","v":5.5},{"f":49.5,"c":"Cavity 8","v":11.5},{"f":50.5,"c":"Cavity 8","v":7.6},{"f":52,"c":"Cavity 8","v":7.9},{"f":54,"c":"Cavity 8","v":8.1},{"f":55.3,"c":"Cavity 8","v":10.2},{"f":56.5,"c":"Cavity 8","v":8.0},{"f":58,"c":"Cavity 8","v":7.8},{"f":60,"c":"Cavity 8","v":8.1},{"f":62,"c":"Cavity 8","v":8.0},{"f":64,"c":"Cavity 8","v":8.2},{"f":66,"c":"Cavity 8","v":8.3},{"f":68,"c":"Cavity 8","v":8.1},{"f":70,"c":"Cavity 8","v":8.3},{"f":72,"c":"Cavity 8","v":8.2},{"f":74,"c":"Cavity 8","v":8.4},{"f":76,"c":"Cavity 8","v":8.3},{"f":78,"c":"Cavity 8","v":8.5},{"f":80,"c":"Cavity 8","v":8.6},{"f":82,"c":"Cavity 8","v":8.5},{"f":84,"c":"Cavity 8","v":8.7},{"f":86,"c":"Cavity 8","v":8.6},{"f":88,"c":"Cavity 8","v":8.8},{"f":90,"c":"Cavity 8","v":8.9},{"f":92,"c":"Cavity 8","v":8.8},{"f":94,"c":"Cavity 8","v":9.0},{"f":96,"c":"Cavity 8","v":9.1},{"f":98,"c":"Cavity 8","v":9.2},{"f":100,"c":"Cavity 8","v":9.2},{"f":102,"c":"Cavity 8","v":9.4},{"f":104,"c":"Cavity 8","v":9.4},{"f":106,"c":"Cavity 8","v":9.6},{"f":108,"c":"Cavity 8","v":9.6},{"f":110,"c":"Cavity 8","v":9.8},{"f":112,"c":"Cavity 8","v":9.9},{"f":114,"c":"Cavity 8","v":10.0},{"f":116,"c":"Cavity 8","v":10.1},{"f":118,"c":"Cavity 8","v":10.3},{"f":120,"c":"Cavity 8","v":10.4},{"f":122,"c":"Cavity 8","v":10.5},{"f":124,"c":"Cavity 8","v":10.7},{"f":126,"c":"Cavity 8","v":10.9},{"f":128,"c":"Cavity 8","v":11.0},{"f":130,"c":"Cavity 8","v":11.2},{"f":132,"c":"Cavity 8","v":11.4},{"f":134,"c":"Cavity 8","v":11.6},{"f":136,"c":"Cavity 8","v":11.8},{"f":138,"c":"Cavity 8","v":12.1},{"f":139.8,"c":"Cavity 8","v":14.7},{"f":140.8,"c":"Cavity 8","v":12.0},{"f":142,"c":"Cavity 8","v":12.4},{"f":144,"c":"Cavity 8","v":12.8},{"f":146,"c":"Cavity 8","v":13.2},{"f":148,"c":"Cavity 8","v":13.7},{"f":150,"c":"Cavity 8","v":14.2},{"f":152,"c":"Cavity 8","v":14.8},{"f":154,"c":"Cavity 8","v":15.5},{"f":156,"c":"Cavity 8","v":16.5},{"f":158,"c":"Cavity 8","v":17.6},{"f":160,"c":"Cavity 8","v":17.2},{"f":162,"c":"Cavity 8","v":16.2},{"f":164,"c":"Cavity 8","v":15.0},{"f":166,"c":"Cavity 8","v":9.9},{"f":168,"c":"Cavity 8","v":14},{"f":170,"c":"Cavity 8","v":16},{"f":172,"c":"Cavity 8","v":18},{"f":174.4,"c":"Cavity 8","v":29.6},{"f":176,"c":"Cavity 8","v":22},{"f":178,"c":"Cavity 8","v":17},{"f":180,"c":"Cavity 8","v":20},{"f":182,"c":"Cavity 8","v":26},{"f":183.6,"c":"Cavity 8","v":36.9},{"f":185,"c":"Cavity 8","v":28},{"f":187,"c":"Cavity 8","v":20},{"f":189,"c":"Cavity 8","v":12},{"f":191,"c":"Cavity 8","v":8},{"f":193,"c":"Cavity 8","v":6.5},{"f":195,"c":"Cavity 8","v":4.5},{"f":197,"c":"Cavity 8","v":3.0},{"f":199,"c":"Cavity 8","v":1.2},{"f":200,"c":"Cavity 8","v":0.6}
]},
"layer": [
{"mark": {"type": "line", "strokeWidth": 1.4, "clip": true},
 "encoding": {
  "x": {"field": "f", "type": "quantitative", "scale": {"domain": [0, 200], "nice": false, "zero": false},
        "axis": {"orient": "bottom", "values": [0,20,40,60,80,100,120,140,160,180,200], "title": "Frequency [Hz]", "grid": true, "labelPadding": 11, "titlePadding": 2, "titleFontSize": 22}},
  "y": {"field": "v", "type": "quantitative", "scale": {"domain": [0, 150], "nice": false},
        "axis": {"orient": "left", "values": [0,50,100,150], "title": "Transfer Function [Hz/V]", "grid": true, "labelPadding": 16, "titlePadding": 12}},
  "color": {"field": "c", "type": "nominal",
        "scale": {"domain": ["Cavity 1","Cavity 2","Cavity 3","Cavity 4","Cavity 5","Cavity 6","Cavity 7","Cavity 8"],
                  "range": ["#0072BD","#D95319","#EDB120","#7E2F8E","#77AC30","#4DBEEE","#A2142F","#0072BD"]},
        "legend": {"orient": "none", "legendX": 28, "legendY": 23, "title": null,
                   "symbolType": "M-0.7,0H6.3", "symbolSize": 400, "symbolStrokeWidth": 1.5,
                   "labelFontSize": 21, "labelFont": "Liberation Sans", "labelColor": "#262626",
                   "labelOffset": 59, "rowPadding": 9, "padding": 11,
                   "strokeColor": "#7a7a7a", "fillColor": "white", "cornerRadius": 0, "labelLimit": 300}}
 }},
{"mark": {"type": "point", "opacity": 0},
 "encoding": {
  "x": {"field": "f", "type": "quantitative", "scale": {"domain": [0, 200], "nice": false, "zero": false},
        "axis": {"orient": "top", "values": [0,20,40,60,80,100,120,140,160,180,200], "labels": false, "title": null, "grid": false, "domain": false}},
  "y": {"field": "v", "type": "quantitative", "scale": {"domain": [0, 150], "nice": false},
        "axis": {"orient": "right", "values": [0,50,100,150], "labels": false, "title": null, "grid": false, "domain": false}}
 }}
],
"resolve": {"axis": {"x": "independent", "y": "independent"}},
"config": {
  "view": {"stroke": "#6e6e6e", "strokeWidth": 1.3},
  "axis": {"labelFont": "Liberation Sans", "labelFontSize": 21, "labelColor": "#262626",
           "titleFont": "Liberation Sans", "titleFontSize": 23, "titleFontWeight": "normal", "titleColor": "#262626",
           "domainColor": "#6e6e6e", "domainWidth": 1.3, "tickColor": "#6e6e6e", "tickWidth": 1.3, "tickSize": -7,
           "gridColor": "#e2e2e2", "gridWidth": 1}
}
}
